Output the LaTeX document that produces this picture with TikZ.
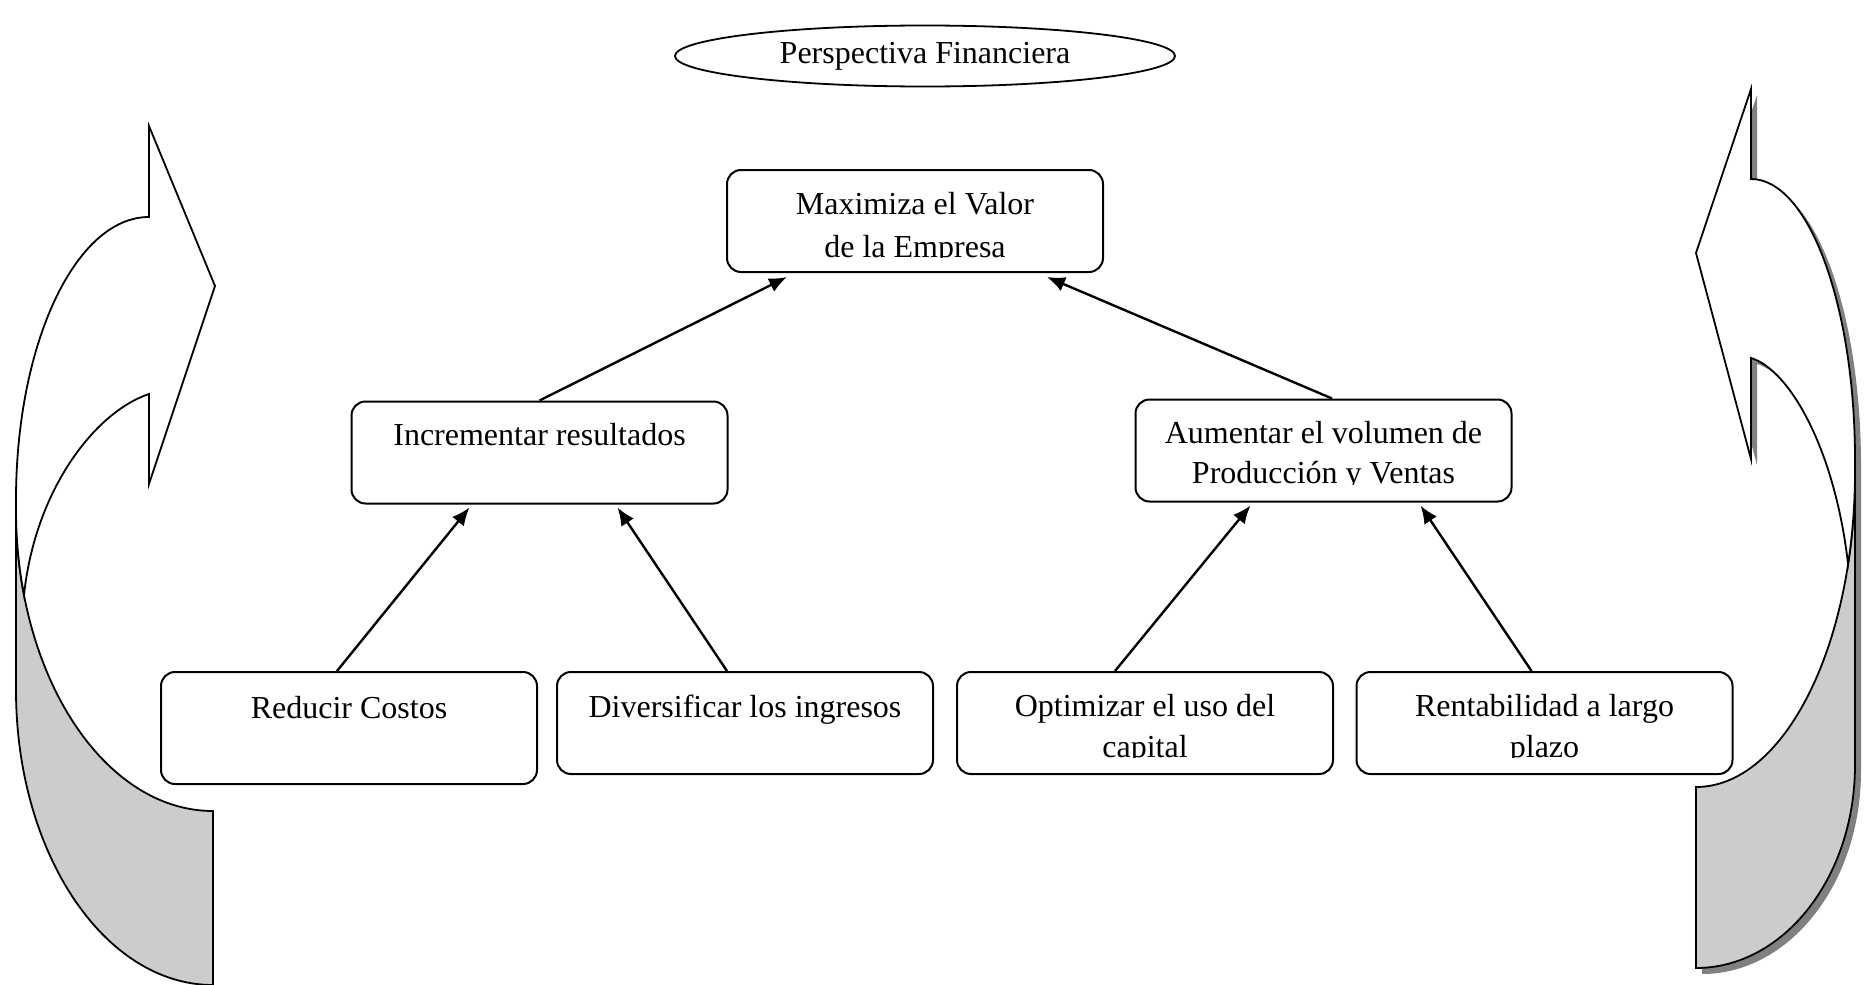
\documentclass[tikz,border=0pt]{standalone}
\usepackage{fontspec}
\setmainfont{Liberation Serif}
\usetikzlibrary{arrows.meta,shapes.geometric,calc}
\begin{document}
\begin{tikzpicture}[x=0.5pt,y=-0.5pt,
  every node/.style={font=\fontsize{16}{20}\selectfont},
  box/.style={draw, line width=1pt, rounded corners=7pt, fill=white, minimum width=188pt, minimum height=51pt, inner sep=0pt},
  lbl/.style={anchor=base, inner sep=0pt},
  con/.style={line width=1.2pt, -{Latex[length=9pt,width=7.5pt]}},
  band/.style={draw, line width=0.9pt, line join=miter},
  backface/.style={band, fill=black!20},
  frontface/.style={band, fill=white},
  shadowface/.style={fill=black!50},
  ]
\useasboundingbox (0,0) rectangle (1870,985);

% ---------- left curved arrow ----------
\path[backface] (16,510) -- (16,690) arc[start angle=180, end angle=90, x radius=197, y radius=295]
  -- (213,811) arc[start angle=90, end angle=180, x radius=197, y radius=301] -- cycle;
\path[frontface] (149,217) arc[start angle=270, end angle=180, x radius=133, y radius=283]
  -- (16,510) arc[start angle=180, end angle=163.6, x radius=197, y radius=301]
  .. controls (35,490) and (95,412) .. (149,394)
  -- (149,484) -- (215,286) -- (149,126) -- cycle;

% ---------- right curved arrow ----------
\begin{scope}[shift={(6,6)}]
\path[shadowface] (1751,179) arc[start angle=270, end angle=360, x radius=104, y radius=281]
  -- (1855,765) arc[start angle=0, end angle=90, x radius=159, y radius=203]
  -- (1696,787) arc[start angle=90, end angle=17, x radius=159, y radius=315]
  .. controls (1835,450) and (1790,370) .. (1751,358)
  -- (1751,459) -- (1696,253) -- (1751,89) -- cycle;
\end{scope}
\path[backface] (1855,472) -- (1855,765) arc[start angle=0, end angle=90, x radius=159, y radius=203]
  -- (1696,787) arc[start angle=90, end angle=0, x radius=159, y radius=315] -- cycle;
\path[frontface] (1751,179) arc[start angle=270, end angle=360, x radius=104, y radius=281]
  -- (1855,472) arc[start angle=0, end angle=17, x radius=159, y radius=315]
  .. controls (1835,450) and (1790,370) .. (1751,358)
  -- (1751,459) -- (1696,253) -- (1751,89) -- cycle;

% ---------- title ----------
\node[draw, ellipse, line width=0.9pt, minimum width=250pt, minimum height=30.5pt, inner sep=0pt] (pf) at (925,56) {Perspectiva Financiera};

% ---------- boxes ----------
\node[box] (max) at (915,221) {};
\node[box] (inc) at (539.5,452.5) {};
\node[box] (aum) at (1323.5,450.5) {};
\node[box, minimum height=56pt] (red) at (349,728) {};
\node[box] (div) at (745,723) {};
\node[box] (opt) at (1145,723) {};
\node[box] (ren) at (1544.5,723) {};

% ---------- texts ----------
\node[lbl] (maxa) at (915,214) {Maximiza el Valor};
\begin{scope}
\clip (700,225) rectangle (1130,257);
\node[lbl] (maxb) at (915,257) {de la Empresa};
\end{scope}
\node[lbl] (inca) at (539.5,445) {Incrementar resultados};
\node[lbl] (auma) at (1323.5,443) {Aumentar el volumen de};
\begin{scope}
\clip (1130,450) rectangle (1520,484);
\node[lbl] (aumb) at (1323.5,483) {Producción y Ventas};
\end{scope}
\node[lbl] (reda) at (349,718) {Reducir Costos};
\node[lbl] (diva) at (745,717) {Diversificar los ingresos};
\node[lbl] (opta) at (1145,716) {Optimizar el uso del};
\begin{scope}
\clip (950,722) rectangle (1340,757);
\node[lbl] (optb) at (1145,757) {capital};
\end{scope}
\node[lbl] (rena) at (1544.5,716) {Rentabilidad a largo};
\begin{scope}
\clip (1350,722) rectangle (1740,757);
\node[lbl] (renb) at (1544.5,757) {plazo};
\end{scope}

% ---------- connectors ----------
\draw[con] (inc.north) -- ($(max.south)+(-128,4)$);
\draw[con] ($(aum.north)+(8.5,0)$) -- ($(max.south)+(132,4)$);
\draw[con] ($(red.north)+(-12,0)$) -- ($(inc.south)+(-70,3)$);
\draw[con] ($(div.north)+(-18,0)$) -- ($(inc.south)+(78,3)$);
\draw[con] ($(opt.north)+(-30,0)$) -- ($(aum.south)+(-73,3)$);
\draw[con] ($(ren.north)+(-13,0)$) -- ($(aum.south)+(97,3)$);
\end{tikzpicture}
\end{document}
